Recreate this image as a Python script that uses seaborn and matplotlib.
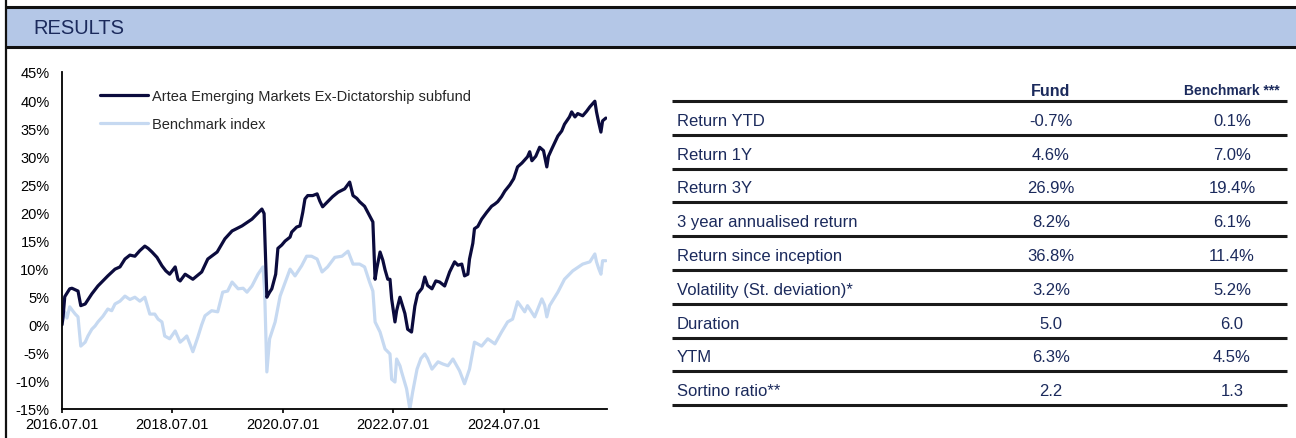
import numpy as np
import pandas as pd
import matplotlib
matplotlib.use("Agg")
import matplotlib.pyplot as plt
import seaborn as sns
from matplotlib.patches import Rectangle

# --- chart data (decimal years, cumulative % return) ---
fund_years = [
    2016.50, 2016.52, 2016.55, 2016.64, 2016.68, 2016.79, 2016.84, 2016.92, 2017.04, 2017.15,
    2017.33, 2017.46, 2017.55, 2017.64, 2017.73, 2017.82, 2017.91, 2018.00, 2018.06, 2018.13,
    2018.22, 2018.31, 2018.38, 2018.45, 2018.55, 2018.60, 2018.64, 2018.73, 2018.87, 2019.03,
    2019.14, 2019.31, 2019.45, 2019.58, 2019.76, 2019.94, 2020.12, 2020.16, 2020.21, 2020.26,
    2020.30, 2020.37, 2020.41, 2020.48, 2020.54, 2020.63, 2020.66, 2020.75, 2020.81, 2020.86,
    2020.90, 2020.95, 2021.04, 2021.12, 2021.17, 2021.22, 2021.31, 2021.40, 2021.50, 2021.62,
    2021.71, 2021.77, 2021.84, 2021.89, 2021.98, 2022.07, 2022.13, 2022.17, 2022.20, 2022.26,
    2022.31, 2022.35, 2022.40, 2022.44, 2022.47, 2022.53, 2022.56, 2022.62, 2022.67, 2022.71,
    2022.76, 2022.83, 2022.89, 2022.94, 2023.02, 2023.07, 2023.12, 2023.20, 2023.27, 2023.34,
    2023.43, 2023.52, 2023.61, 2023.67, 2023.74, 2023.79, 2023.85, 2023.88, 2023.94, 2023.97,
    2024.03, 2024.10, 2024.19, 2024.28, 2024.34, 2024.39, 2024.46, 2024.52, 2024.61, 2024.68,
    2024.75, 2024.83, 2024.93, 2024.97, 2025.01, 2025.08, 2025.15, 2025.22, 2025.28, 2025.31,
    2025.37, 2025.48, 2025.55, 2025.60, 2025.69, 2025.73, 2025.79, 2025.84, 2025.93, 2026.00,
    2026.06, 2026.15, 2026.18, 2026.22, 2026.26, 2026.29, 2026.35,
]
fund_pct = [
    0.0, 1.5, 5.0, 6.4, 6.5, 6.0, 3.4, 3.7, 5.5, 6.9,
    8.7, 9.9, 10.3, 11.7, 12.4, 12.2, 13.2, 14.0, 13.6, 12.95,
    12.0, 10.5, 9.6, 9.0, 10.3, 8.1, 7.8, 9.0, 8.1, 9.4,
    11.7, 12.95, 15.3, 16.7, 17.6, 18.8, 20.6, 19.8, 4.9, 5.8,
    6.4, 9.0, 13.6, 14.2, 14.9, 15.6, 16.5, 17.4, 17.6, 20.0,
    22.4, 23.0, 23.0, 23.3, 22.0, 21.0, 21.9, 22.8, 23.6, 24.2,
    25.4, 23.0, 22.5, 21.9, 21.1, 19.4, 18.3, 8.1, 10.0, 12.95,
    11.5, 9.8, 8.1, 8.1, 4.6, 0.5, 2.5, 4.9, 3.3, 2.0,
    -0.8, -1.3, 3.3, 5.5, 6.5, 8.5, 7.0, 6.4, 7.8, 7.6,
    6.9, 9.4, 11.2, 10.6, 10.8, 8.7, 9.0, 11.7, 14.5, 17.1,
    17.5, 18.8, 20.0, 21.1, 21.5, 21.9, 22.8, 23.8, 24.9, 26.0,
    28.1, 28.8, 29.9, 30.8, 29.2, 30.0, 31.6, 31.0, 28.1, 30.0,
    31.3, 33.6, 34.5, 35.7, 37.0, 37.9, 37.0, 37.6, 37.2, 38.0,
    38.8, 39.8, 37.9, 36.0, 34.3, 36.3, 36.8,
]

bench_years = [
    2016.50, 2016.52, 2016.55, 2016.59, 2016.64, 2016.70, 2016.74, 2016.79, 2016.84, 2016.92,
    2016.97, 2017.04, 2017.10, 2017.15, 2017.24, 2017.33, 2017.40, 2017.46, 2017.55, 2017.64,
    2017.73, 2017.82, 2017.91, 2018.00, 2018.09, 2018.18, 2018.24, 2018.31, 2018.36, 2018.45,
    2018.55, 2018.64, 2018.71, 2018.76, 2018.82, 2018.87, 2018.96, 2019.03, 2019.09, 2019.21,
    2019.32, 2019.41, 2019.50, 2019.58, 2019.69, 2019.78, 2019.85, 2019.94, 2020.05, 2020.14,
    2020.17, 2020.21, 2020.26, 2020.36, 2020.45, 2020.54, 2020.63, 2020.72, 2020.84, 2020.93,
    2021.02, 2021.12, 2021.21, 2021.31, 2021.44, 2021.57, 2021.68, 2021.77, 2021.89, 2021.98,
    2022.07, 2022.13, 2022.17, 2022.26, 2022.35, 2022.44, 2022.47, 2022.53, 2022.56, 2022.62,
    2022.65, 2022.74, 2022.80, 2022.85, 2022.93, 2023.00, 2023.07, 2023.12, 2023.20, 2023.31,
    2023.40, 2023.49, 2023.58, 2023.70, 2023.79, 2023.88, 2023.97, 2024.10, 2024.21, 2024.34,
    2024.46, 2024.57, 2024.66, 2024.75, 2024.83, 2024.88, 2024.93, 2025.06, 2025.19, 2025.24,
    2025.28, 2025.33, 2025.48, 2025.60, 2025.75, 2025.84, 2025.93, 2026.06, 2026.15, 2026.18,
    2026.22, 2026.26, 2026.29, 2026.35,
]
bench_pct = [
    0.0, 1.0, 2.3, 1.2, 3.2, 2.4, 1.9, 1.4, -3.8, -3.1,
    -2.0, -0.8, -0.2, 0.5, 1.5, 2.8, 2.5, 3.7, 4.2, 5.1,
    4.5, 4.9, 4.2, 4.9, 1.9, 1.9, 1.0, 0.5, -2.0, -2.5,
    -1.1, -3.1, -2.5, -2.0, -3.5, -4.8, -2.2, 0.0, 1.6, 2.5,
    2.3, 5.8, 6.0, 7.6, 6.4, 6.5, 5.8, 6.9, 9.0, 10.3,
    6.0, -8.4, -2.5, 0.5, 5.1, 7.5, 9.9, 8.7, 10.5, 12.2,
    12.2, 11.7, 9.4, 10.3, 12.0, 12.2, 13.1, 10.8, 10.8, 10.3,
    7.6, 6.0, 0.5, -1.3, -4.3, -5.2, -9.7, -10.2, -6.1, -7.3,
    -8.4, -11.4, -15.0, -12.0, -7.9, -6.0, -5.2, -6.0, -7.9, -6.6,
    -7.0, -7.3, -6.1, -8.2, -10.5, -7.9, -3.1, -3.8, -2.5, -3.4,
    -1.3, 0.5, 1.0, 4.1, 3.0, 2.3, 3.4, 1.4, 4.6, 3.5,
    1.4, 3.4, 5.8, 8.1, 9.6, 10.2, 10.8, 11.2, 12.6, 11.2,
    10.0, 9.0, 11.4, 11.4,
]

fund_name = "Artea Emerging Markets Ex-Dictatorship subfund"
bench_name = "Benchmark index"
x_tick_labels = ["2016.07.01", "2018.07.01", "2020.07.01", "2022.07.01", "2024.07.01"]
y_ticks = [-15, -10, -5, 0, 5, 10, 15, 20, 25, 30, 35, 40, 45]

# --- table data ---
row_labels = [
    "Return YTD", "Return 1Y", "Return 3Y", "3 year annualised return",
    "Return since inception", "Volatility (St. deviation)*", "Duration", "YTM",
    "Sortino ratio**",
]
fund_values = ["-0.7%", "4.6%", "26.9%", "8.2%", "36.8%", "3.2%", "5.0", "6.3%", "2.2"]
bench_values = ["0.1%", "7.0%", "19.4%", "6.1%", "11.4%", "5.2%", "6.0", "4.5%", "1.3"]
col_headers = ["Fund", "Benchmark ***"]

NAVY = "#1b2a5c"
FUND_COLOR = "#0b0b3d"
BENCH_COLOR = "#c6d9f1"

sns.set_style("white")
plt.rcParams["font.family"] = ["Liberation Sans", "DejaVu Sans"]

W, H = 1296, 439
fig = plt.figure(figsize=(W / 100, H / 100), dpi=100)

# background layer in pixel coordinates
bg = fig.add_axes([0, 0, 1, 1], zorder=0)
bg.set_xlim(0, W)
bg.set_ylim(H, 0)
bg.axis("off")

bg.add_patch(Rectangle((6, 8), W - 6, 39, facecolor="#b4c7e7", edgecolor="none"))
bg.plot([6, W], [8, 8], color="#111111", lw=2.2, solid_capstyle="butt")
bg.plot([6, W], [47.5, 47.5], color="#111111", lw=2.2, solid_capstyle="butt")
bg.plot([5.5, 5.5], [0, H], color="#111111", lw=1.6)
bg.text(33, 28, "RESULTS", fontsize=14.5, color=NAVY, va="center", ha="left")

# table
line_y0 = 102
row_h = 33.8
x_left, x_right = 672, 1287
fund_cx, bench_cx = 1051, 1232
bg.text(fund_cx, 91, col_headers[0], fontsize=11.5, fontweight="bold",
        color=NAVY, ha="center", va="center")
bg.text(bench_cx, 91, col_headers[1], fontsize=10, fontweight="bold",
        color=NAVY, ha="center", va="center")
for k in range(len(row_labels) + 1):
    yy = line_y0 + k * row_h
    bg.plot([x_left, x_right], [yy, yy], color="#1a1a1a", lw=2.2,
            solid_capstyle="butt")
for k, (lab, fv, bv) in enumerate(zip(row_labels, fund_values, bench_values)):
    yc = line_y0 + (k + 0.5) * row_h + 2.5
    bg.text(677, yc, lab, fontsize=12, color=NAVY, ha="left", va="center")
    bg.text(fund_cx, yc, fv, fontsize=12, color=NAVY, ha="center", va="center")
    bg.text(bench_cx, yc, bv, fontsize=12, color=NAVY, ha="center", va="center")

# line chart
ax = fig.add_axes([62 / W, 29 / H, (607 - 62) / W, (410 - 73) / H], zorder=1)
ax.set_facecolor("none")

df_fund = pd.DataFrame({"year": fund_years, "pct": fund_pct})
df_bench = pd.DataFrame({"year": bench_years, "pct": bench_pct})
sns.lineplot(data=df_bench, x="year", y="pct", ax=ax, color=BENCH_COLOR,
             lw=2.3, estimator=None, label=bench_name)
sns.lineplot(data=df_fund, x="year", y="pct", ax=ax, color=FUND_COLOR,
             lw=2.3, estimator=None, label=fund_name)

ax.set_xlim(2016.5, 2026.37)
ax.set_ylim(-15, 45)
ax.set_xlabel("")
ax.set_ylabel("")

tick_pos = [int(s[:4]) + (int(s[5:7]) - 1) / 12 for s in x_tick_labels]
ax.set_xticks(tick_pos)
ax.set_xticklabels(x_tick_labels, fontsize=10.5)
ax.set_yticks(y_ticks)
ax.set_yticklabels([f"{v}%" for v in y_ticks], fontsize=10.5)
ax.tick_params(axis="x", direction="out", length=3, width=1.2, pad=3,
               bottom=True, colors="black")
ax.tick_params(axis="y", length=0, pad=9, colors="black")

for side in ["top", "right"]:
    ax.spines[side].set_visible(False)
for side in ["left", "bottom"]:
    ax.spines[side].set_color("black")
    ax.spines[side].set_linewidth(1.3)

handles, labels = ax.get_legend_handles_labels()
ax.legend(handles[::-1], labels[::-1], loc="upper left",
          bbox_to_anchor=(38 / 545, 1 - 17 / 337), frameon=False,
          fontsize=10.5, handlelength=3.3, handletextpad=0.3,
          labelspacing=0.95, borderpad=0, borderaxespad=0)

fig.savefig("out.png", dpi=100)
